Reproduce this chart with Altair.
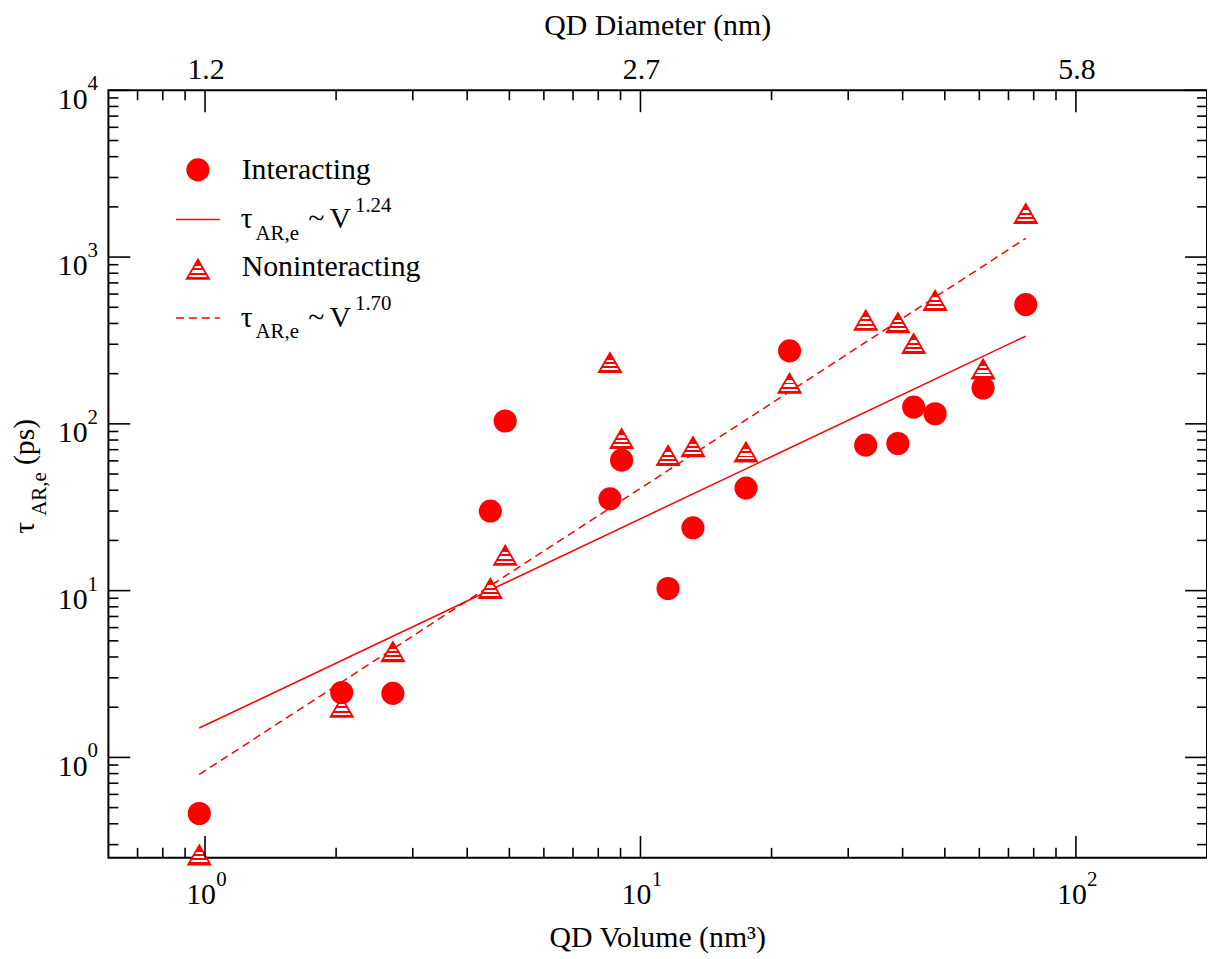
import altair as alt
import pandas as pd

# ---------------- data ----------------
vol = [0.97, 2.06, 2.70, 4.52, 4.89, 8.51, 9.05, 11.57, 13.2, 17.47, 22.0, 32.9, 39.0, 42.4, 47.5, 61.2, 76.7]
tau_int = [0.461, 2.45, 2.42, 30.0, 104, 35.5, 60.6, 10.3, 23.8, 41.2, 274, 74.5, 76.2, 126, 115, 164, 519]
tau_non = [0.26, 2.0, 4.3, 10.3, 16.3, 233, 81.6, 64.6, 72.9, 67.7, 175, 418, 404, 303, 550, 213, 1823]

fit_v = [0.97, 76.7]
fit_int = [1.50, 336]
fit_non = [0.79, 1294]

x_major = [1, 10, 100]
x_minor = [0.7, 0.8, 0.9, 2, 3, 4, 5, 6, 7, 8, 9, 20, 30, 40, 50, 60, 70, 80, 90]
y_major = [1, 10, 100, 1000, 10000]
y_minor = [0.3, 0.4, 0.5, 0.6, 0.7, 0.8, 0.9,
           2, 3, 4, 5, 6, 7, 8, 9,
           20, 30, 40, 50, 60, 70, 80, 90,
           200, 300, 400, 500, 600, 700, 800, 900,
           2000, 3000, 4000, 5000, 6000, 7000, 8000, 9000]
x_exp = ["0", "1", "2"]
y_exp = ["0", "1", "2", "3", "4"]
diam_labels = ["1.2", "2.7", "5.8"]

# ---------------- styling ----------------
W, H = 1105, 772
RED = "#ff0000"
FONT = "Liberation Serif"
FS = 30
FS_SMALL = 21
MAJ, MIN = 22, 10

xs = alt.Scale(type="log", domain=[0.6, 200])
ys = alt.Scale(type="log", domain=[0.25, 10000])

pts = pd.DataFrame({"v": vol, "ti": tau_int, "tn": tau_non})
fit = pd.DataFrame({"v": fit_v, "fi": fit_int, "fn": fit_non})

X = lambda f="v": alt.X(f"{f}:Q", scale=xs, axis=None)
Y = lambda f: alt.Y(f"{f}:Q", scale=ys, axis=None)

stripes = {
    "gradient": "linear", "x1": 0, "y1": 0, "x2": 0, "y2": 1,
    "stops": [
        {"offset": 0.0, "color": RED}, {"offset": 0.34, "color": RED},
        {"offset": 0.34, "color": "white"}, {"offset": 0.46, "color": "white"},
        {"offset": 0.46, "color": RED}, {"offset": 0.56, "color": RED},
        {"offset": 0.56, "color": "white"}, {"offset": 0.68, "color": "white"},
        {"offset": 0.68, "color": RED}, {"offset": 0.78, "color": RED},
        {"offset": 0.78, "color": "white"}, {"offset": 0.88, "color": "white"},
        {"offset": 0.88, "color": RED}, {"offset": 1.0, "color": RED},
    ],
}

CIRC = dict(shape="circle", filled=True, color=RED, size=540, opacity=1)
TRI = dict(shape="triangle-up", filled=True, fill=stripes, stroke=RED,
           strokeWidth=1.8, size=500, opacity=1)

layers = []

# fit lines
layers.append(alt.Chart(fit).mark_line(color=RED, strokeWidth=1.5).encode(x=X(), y=Y("fi")))
layers.append(alt.Chart(fit).mark_line(color=RED, strokeWidth=1.5, strokeDash=[8, 5]).encode(x=X(), y=Y("fn")))

# points
layers.append(alt.Chart(pts).mark_point(**CIRC).encode(x=X(), y=Y("ti")))
layers.append(alt.Chart(pts).mark_point(**TRI).encode(x=X(), y=Y("tn")))

# ticks (inward, on all four sides)
def xticks(vals, ln):
    d = pd.DataFrame({"v": vals})
    b = alt.Chart(d).mark_rule(color="black", strokeWidth=1.6).encode(
        x=X(), y=alt.value(H), y2=alt.value(H - ln))
    t = alt.Chart(d).mark_rule(color="black", strokeWidth=1.6).encode(
        x=X(), y=alt.value(0), y2=alt.value(ln))
    return [b, t]

def yticks(vals, ln):
    d = pd.DataFrame({"t": vals})
    l = alt.Chart(d).mark_rule(color="black", strokeWidth=1.6).encode(
        y=Y("t"), x=alt.value(0), x2=alt.value(ln))
    r = alt.Chart(d).mark_rule(color="black", strokeWidth=1.6).encode(
        y=Y("t"), x=alt.value(W), x2=alt.value(W - ln))
    return [l, r]

layers += xticks(x_major, MAJ) + xticks(x_minor, MIN)
layers += yticks(y_major, MAJ) + yticks(y_minor, MIN)

# tick labels
xl = pd.DataFrame({"v": x_major, "base": ["10"] * 3, "exp": x_exp, "d": diam_labels})
layers.append(alt.Chart(xl).mark_text(font=FONT, fontSize=FS, align="center", baseline="alphabetic", dx=-4).encode(
    x=X(), y=alt.value(H + 46), text="base:N"))
layers.append(alt.Chart(xl).mark_text(font=FONT, fontSize=FS_SMALL, align="center", baseline="alphabetic", dx=16.5).encode(
    x=X(), y=alt.value(H + 28), text="exp:N"))
layers.append(alt.Chart(xl).mark_text(font=FONT, fontSize=FS, align="center", baseline="alphabetic", dx=1).encode(
    x=X(), y=alt.value(-11), text="d:N"))

yl = pd.DataFrame({"t": y_major, "base": ["10"] * 5, "exp": y_exp})
layers.append(alt.Chart(yl).mark_text(font=FONT, fontSize=FS, align="right", baseline="alphabetic", dy=18.5).encode(
    y=Y("t"), x=alt.value(-21), text="base:N"))
layers.append(alt.Chart(yl).mark_text(font=FONT, fontSize=FS_SMALL, align="left", baseline="alphabetic", dy=0).encode(
    y=Y("t"), x=alt.value(-21), text="exp:N"))

# free text helper
one = pd.DataFrame({"k": [0]})
def txt(s, x, y, size=FS, align="left", angle=0):
    kw = dict(font=FONT, fontSize=size, align=align, baseline="alphabetic", text=s, color="black")
    if angle:
        kw["angle"] = angle
    return alt.Chart(one).mark_text(**kw).encode(x=alt.value(x), y=alt.value(y))

# axis titles
layers.append(txt("QD Diameter (nm)", W / 2, -56, align="center"))
layers.append(txt("QD Volume (nm³)", W / 2, H + 90, align="center"))
layers.append(txt("τ", -75, 446, angle=270))
layers.append(txt("AR,e", -63, 428, size=FS_SMALL, angle=270))
layers.append(txt("(ps)", -75, 377, angle=270))

# legend
def glyph(mark_kw, x, y):
    return alt.Chart(one).mark_point(**mark_kw).encode(x=alt.value(x), y=alt.value(y))

def lline(y, dash=None):
    kw = dict(color=RED, strokeWidth=1.5)
    if dash:
        kw["strokeDash"] = dash
    return alt.Chart(one).mark_rule(**kw).encode(x=alt.value(68), x2=alt.value(112), y=alt.value(y))

def fitlabel(y, exp):
    return [
        txt("τ", 133, y),
        txt("AR,e", 148, y + 11.5, size=FS_SMALL),
        txt("~", 201, y),
        txt("V", 244, y, align="right"),
        txt(exp, 248, y - 17, size=FS_SMALL),
    ]

layers.append(glyph(CIRC, 90, 80))
layers.append(txt("Interacting", 134, 89))
layers.append(lline(130))
layers += fitlabel(139, "1.24")
layers.append(glyph(TRI, 90, 180))
layers.append(txt("Noninteracting", 134, 187))
layers.append(lline(229, dash=[8, 5]))
layers += fitlabel(238, "1.70")

chart = alt.layer(*layers).properties(
    width=W, height=H,
    autosize=alt.AutoSizeParams(type="none"),
    padding={"left": 101, "top": 80, "right": 0, "bottom": 99},
).configure_view(stroke="black", strokeWidth=2)

chart.save("out.html", embed_options={"renderer": "svg", "actions": False})
